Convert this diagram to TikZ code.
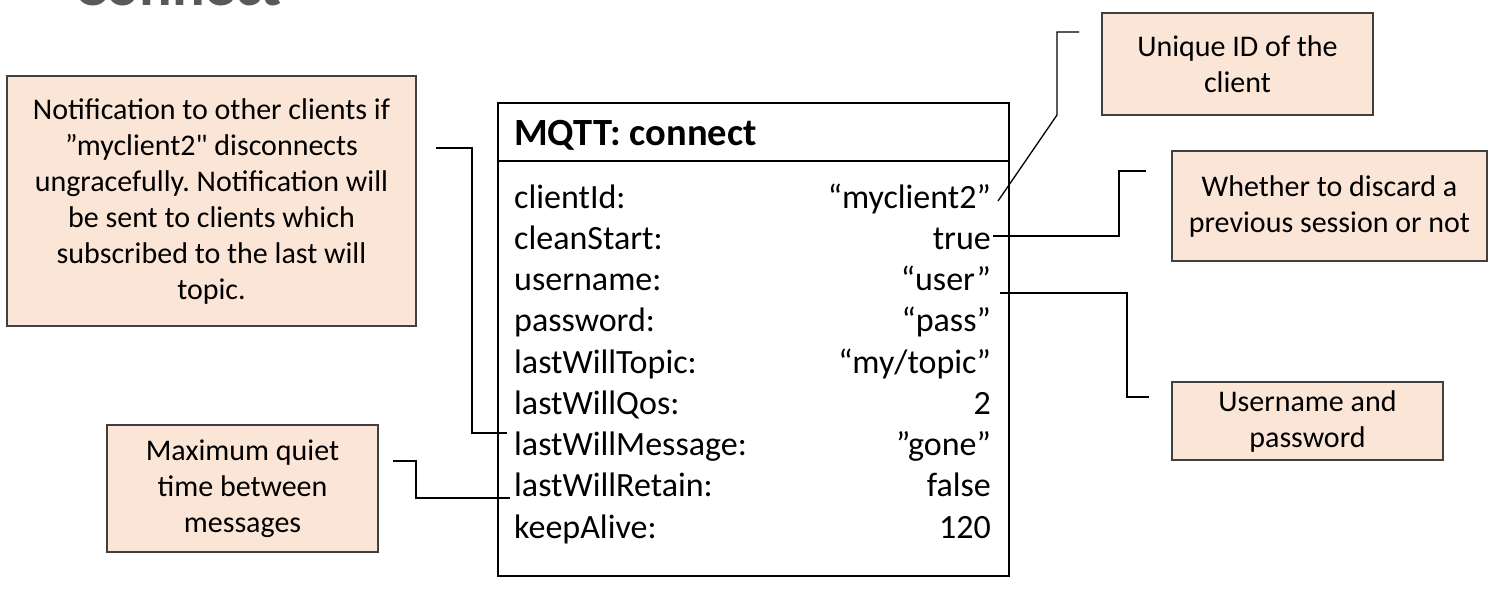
\documentclass[tikz,border=0pt]{standalone}
\usepackage{fontspec}
\setmainfont{Carlito}[Ligatures=TeXOff]
\frenchspacing

\definecolor{peach}{HTML}{FBE5D6}
\definecolor{edgegray}{HTML}{404040}
\definecolor{headgray}{HTML}{595959}

\tikzset{
  callout/.style={draw=edgegray, line width=1.5pt, fill=peach, align=center, inner sep=0pt, font=\fontsize{30}{36}\selectfont},
  lead/.style={line width=1.3pt, black},
  rowkey/.style={anchor=base west, inner sep=0pt, font=\fontsize{34}{40}\selectfont},
  rowval/.style={anchor=base east, inner sep=0pt, font=\fontsize{34}{40}\selectfont}
}

\begin{document}
\begin{tikzpicture}[x=1pt,y=-1pt]
	\useasboundingbox (0,0) rectangle (1508,592);
	% slide title, cut off at the top
	\node[anchor=base west, inner sep=0pt, text=headgray, font=\fontsize{61}{70}\selectfont\bfseries] (slidetitle) at (74,5) {Connect};
	% packet
	\node[draw, line width=1.6pt, minimum width=511pt, minimum height=473pt, inner sep=0pt] (packet) at (753.5,339.5) {};
	\draw[line width=1.3pt] (498,161) -- (1009,161);
	\node[anchor=base west, inner sep=0pt, font=\fontsize{38.5}{44}\selectfont\bfseries] (ptitle) at (514,145) {MQTT: connect};
	\foreach \k/\v [count=\i from 0] in {clientId:/“myclient2”, cleanStart:/true, username:/“user”, password:/“pass”, lastWillTopic:/{“my/topic”}, lastWillQos:/2, lastWillMessage:/”gone”, lastWillRetain:/false, keepAlive:/120}{
		\node[rowkey] (key\i) at (514,208+41.25*\i) {\k};
		\node[rowval] (val\i) at (991,208+41.25*\i) {\v};
	}
	% callouts
	\node[callout, minimum width=409pt, minimum height=250pt] (willnote) at (211.5,201) {Notification to other clients if\\”myclient2" disconnects\\ungracefully. Notification will\\be sent to clients which\\subscribed to the last will\\topic.};
	\node[callout, minimum width=271pt, minimum height=127pt] (alivenote) at (242.5,488.5) {Maximum quiet\\time between\\messages};
	\node[callout, minimum width=271pt, minimum height=102pt] (idnote) at (1237.5,64) {Unique ID of the\\client};
	\node[callout, minimum width=315pt, minimum height=110pt] (startnote) at (1329.5,206) {Whether to discard a\\previous session or not};
	\node[callout, minimum width=271pt, minimum height=78pt] (usernote) at (1307.5,421) {Username and\\password};
	% leader lines
	\coordinate (idtip) at (998,201);
	\coordinate (idend) at (1079,32);
	\draw[lead] (idtip) -- (1057,115) |- (idend);
	\coordinate (starttip) at (993,236);
	\coordinate (startend) at (1146,171);
	\draw[lead] (starttip) -| (1119,171) -- (startend);
	\coordinate (usertip) at (1000,293);
	\coordinate (userend) at (1149,397);
	\draw[lead] (usertip) -| (1127,397) -- (userend);
	\coordinate (willend) at (436,148);
	\coordinate (willtip) at (507,433);
	\draw[lead] (willend) -| (472,433) -- (willtip);
	\coordinate (aliveend) at (393,461);
	\coordinate (alivetip) at (510,498);
	\draw[lead] (aliveend) -| (416,498) -- (alivetip);
\end{tikzpicture}
\end{document}
